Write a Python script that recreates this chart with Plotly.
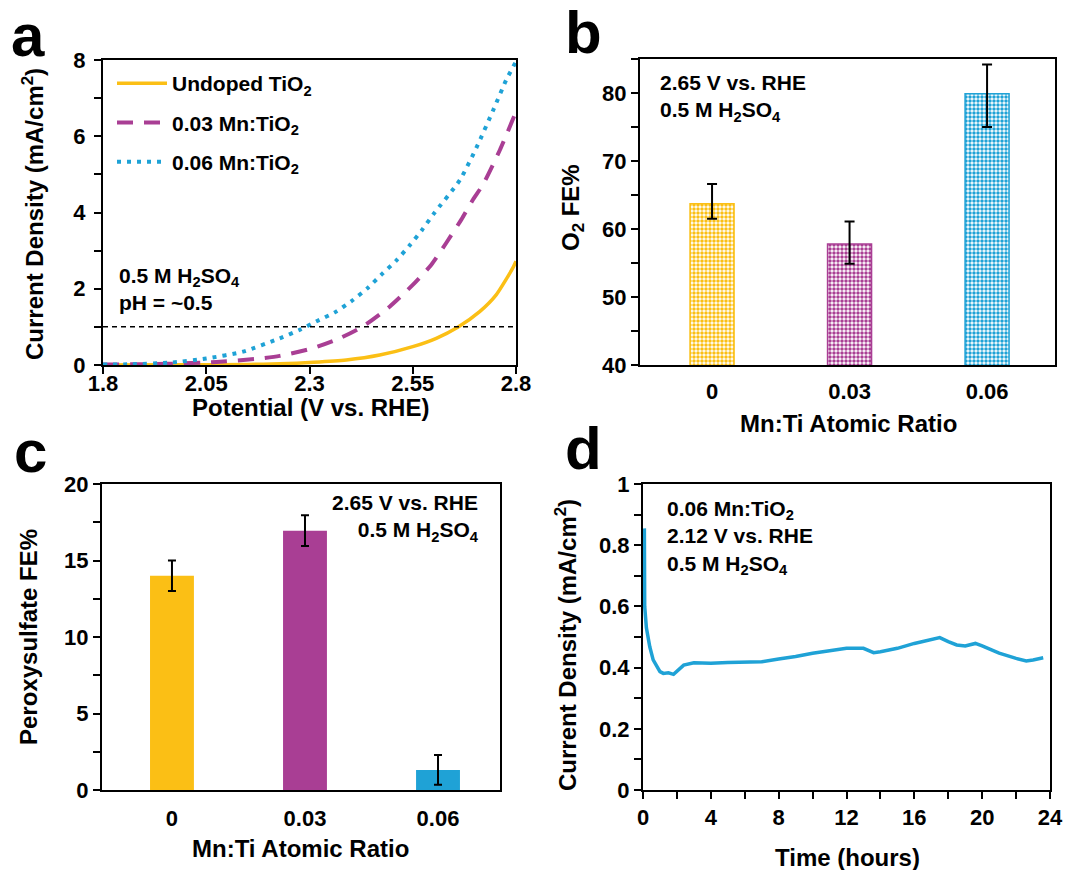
import plotly.graph_objects as go

W, H = 1069, 870

# ---------------- data ----------------
# Panel a: LSV curves
pot_undoped = [1.8, 2.0, 2.15, 2.228, 2.31, 2.389, 2.47, 2.55, 2.607, 2.659, 2.712, 2.752, 2.792, 2.8]
cur_undoped = [0.0, 0.005, 0.015, 0.03, 0.07, 0.13, 0.26, 0.48, 0.70, 0.99, 1.40, 1.84, 2.54, 2.72]
pot_mn003 = [1.8, 1.953, 2.075, 2.18, 2.228, 2.308, 2.373, 2.429, 2.494, 2.55, 2.595, 2.631,
             2.668, 2.696, 2.721, 2.761, 2.8]
cur_mn003 = [0.01, 0.03, 0.08, 0.17, 0.24, 0.44, 0.70, 1.01, 1.53, 2.10, 2.63, 3.20,
             3.82, 4.34, 4.75, 5.64, 6.64]
pot_mn006 = [1.8, 1.87, 1.96, 2.05, 2.139, 2.228, 2.276, 2.316, 2.361, 2.401, 2.441, 2.474,
             2.51, 2.542, 2.573, 2.601, 2.664, 2.705, 2.745, 2.776, 2.8]
cur_mn006 = [0.01, 0.02, 0.06, 0.17, 0.35, 0.70, 0.92, 1.14, 1.38, 1.67, 2.02, 2.37,
             2.74, 3.13, 3.55, 3.97, 4.85, 5.72, 6.69, 7.47, 7.96]
ref_pot = [1.8, 2.8]
ref_cur = [1.0, 1.0]
pot_ticks = [1.8, 2.05, 2.3, 2.55, 2.8]
pot_ticklabels = ["1.8", "2.05", "2.3", "2.55", "2.8"]

# Panels b, c: bars
ratios = ["0", "0.03", "0.06"]
o2_fe = [63.7, 57.8, 79.9]
o2_err_plus = [2.9, 3.3, 4.3]
o2_err_minus = [2.2, 2.9, 4.9]
ps_fe = [14.0, 16.95, 1.31]
ps_err = [1.0, 1.0, 0.97]

# Panel d: chronoamperometry
time_h = [0.08, 0.1, 0.2, 0.4, 0.6, 0.8, 1.0, 1.2, 1.5, 1.8, 2.0, 2.4, 3.0, 4.0, 5.0, 6.0, 7.0,
          8.0, 9.0, 10.0, 11.0, 12.0, 13.0, 13.6, 14.0, 15.0, 16.0, 17.0, 17.5, 18.0, 18.5,
          19.0, 19.6, 20.0, 21.0, 22.0, 22.6, 23.0, 23.6]
cur_time = [0.855, 0.60, 0.53, 0.468, 0.425, 0.403, 0.387, 0.381, 0.383, 0.378, 0.387, 0.408,
            0.416, 0.414, 0.417, 0.419, 0.419, 0.428, 0.436, 0.447, 0.454, 0.463, 0.463, 0.449,
            0.452, 0.463, 0.479, 0.490, 0.498, 0.485, 0.474, 0.471, 0.479, 0.471, 0.447,
            0.430, 0.422, 0.425, 0.432]

YELLOW = "#FBBF15"
PURPLE = "#A93E94"
BLUE = "#1FA2D6"
FONT = "Liberation Sans, Arial, sans-serif"


def px(x):
    return x / W


def py(y):
    return 1 - y / H


fig = go.Figure()

# ---- panel a ----
fig.add_trace(go.Scatter(x=pot_undoped, y=cur_undoped, mode="lines", name="Undoped TiO<sub>2</sub>",
                         line=dict(color=YELLOW, width=3.5, shape="spline", smoothing=0.6),
                         xaxis="x", yaxis="y", legendgroup="g1"))
fig.add_trace(go.Scatter(x=pot_mn003, y=cur_mn003, mode="lines", name="0.03 Mn:TiO<sub>2</sub>",
                         line=dict(color=PURPLE, width=4, dash="16px,11px", shape="spline",
                                   smoothing=0.6),
                         xaxis="x", yaxis="y", legendgroup="g2"))
fig.add_trace(go.Scatter(x=pot_mn006, y=cur_mn006, mode="lines", name="0.06 Mn:TiO<sub>2</sub>",
                         line=dict(color=BLUE, width=4, dash="4px,6px", shape="spline",
                                   smoothing=0.6),
                         xaxis="x", yaxis="y", legendgroup="g3"))
fig.add_trace(go.Scatter(x=ref_pot, y=ref_cur, mode="lines", showlegend=False,
                         line=dict(color="black", width=1.5, dash="5px,4px"),
                         xaxis="x", yaxis="y"))

# ---- panel b ----
fig.add_trace(go.Bar(x=ratios, y=o2_fe, width=0.32, showlegend=False,
                     marker=dict(color="white", line=dict(color=[YELLOW, PURPLE, BLUE], width=1.5),
                                 pattern=dict(shape=".", fgcolor=[YELLOW, PURPLE, BLUE],
                                              bgcolor="white", size=4, solidity=0.6,
                                              fillmode="replace")),
                     error_y=dict(type="data", symmetric=False, array=o2_err_plus,
                                  arrayminus=o2_err_minus, color="black", thickness=2, width=5),
                     xaxis="x2", yaxis="y2"))

# ---- panel c ----
fig.add_trace(go.Bar(x=ratios, y=ps_fe, width=0.33, showlegend=False,
                     marker=dict(color=[YELLOW, PURPLE, BLUE], line=dict(width=0)),
                     error_y=dict(type="data", array=ps_err, color="black", thickness=2, width=4),
                     xaxis="x3", yaxis="y3"))

# ---- panel d ----
fig.add_trace(go.Scatter(x=time_h, y=cur_time, mode="lines", showlegend=False,
                         line=dict(color=BLUE, width=3.5),
                         xaxis="x4", yaxis="y4"))

common = dict(showline=True, linecolor="black", linewidth=2, mirror=True, showgrid=False,
              zeroline=False, tickcolor="black", tickwidth=2, ticklen=7, automargin=False,
              tickfont=dict(size=22, color="black", family=FONT, weight="bold"))
minor_y = dict(ticks="outside", ticklen=7, tickcolor="black", tickwidth=2)

fig.update_layout(
    width=W, height=H, margin=dict(l=0, r=0, t=0, b=0, autoexpand=False),
    paper_bgcolor="white", plot_bgcolor="white",
    font=dict(family=FONT, color="black", size=21, weight="bold"),
    xaxis=dict(domain=[px(103), px(516)], anchor="y", range=[1.8, 2.8], tickvals=pot_ticks,
               ticktext=pot_ticklabels, ticks="outside", ticklabelstandoff=-9, **common),
    yaxis=dict(domain=[py(365), py(60)], anchor="x", range=[0, 8], dtick=2, ticks="outside",
               minor=dict(dtick=1, **minor_y), ticklabelstandoff=4, **common),
    xaxis2=dict(domain=[px(640), px(1055)], anchor="y2", type="category",
                range=[-0.524, 2.494], ticks="", ticklabelstandoff=6, **common),
    yaxis2=dict(domain=[py(365), py(59)], anchor="x2", range=[40, 85], dtick=10, ticks="outside",
                minor=dict(dtick=5, **minor_y), **common),
    xaxis3=dict(domain=[px(102), px(500)], anchor="y3", type="category",
                range=[-0.526, 2.466], ticks="", ticklabelstandoff=8, **common),
    yaxis3=dict(domain=[py(790), py(484)], anchor="x3", range=[0, 20], dtick=5, ticks="outside",
                minor=dict(dtick=2.5, **minor_y), **common),
    xaxis4=dict(domain=[px(643), px(1050)], anchor="y4", range=[0, 24], dtick=4, ticks="outside",
                minor=dict(dtick=2, **minor_y), ticklabelstandoff=0, **common),
    yaxis4=dict(domain=[py(790), py(484)], anchor="x4", range=[0, 1], dtick=0.2, ticks="outside",
                minor=dict(dtick=0.1, **minor_y), **common),
    legend=dict(x=px(112), y=py(63), xanchor="left", yanchor="top", bgcolor="rgba(0,0,0,0)",
                font=dict(size=21, family=FONT, weight="bold"), tracegroupgap=9,
                itemwidth=50),
)

ann = []


def add_text(text, x, y, size=21, xanchor="center", yanchor="middle", angle=0, align="left"):
    ann.append(dict(text=text, x=px(x), y=py(y), xref="paper", yref="paper", showarrow=False,
                    xanchor=xanchor, yanchor=yanchor, textangle=angle, align=align,
                    font=dict(size=size, family=FONT, color="black", weight="bold")))


# panel letters
add_text("a", 28, 36, size=60)
add_text("b", 583, 33, size=60)
add_text("c", 30, 452, size=60)
add_text("d", 583, 448, size=60)

# axis titles
add_text("Current Density (mA/cm<sup>2</sup>)", 33, 214, size=24, angle=-90)
add_text("Potential (V vs. RHE)", 310, 407, size=24)
add_text("O<sub>2</sub> FE%", 572, 208, size=24, angle=-90)
add_text("Mn:Ti Atomic Ratio", 848, 424, size=24)
add_text("Peroxysulfate FE%", 28, 637, size=24, angle=-90)
add_text("Mn:Ti Atomic Ratio", 300, 848, size=24)
add_text("Current Density (mA/cm<sup>2</sup>)", 566, 645, size=24, angle=-90)
add_text("Time (hours)", 847, 857, size=24)

# in-plot notes
add_text("0.5 M H<sub>2</sub>SO<sub>4</sub><br>pH = ~0.5", 117, 289, xanchor="left")
add_text("2.65 V vs. RHE<br>0.5 M H<sub>2</sub>SO<sub>4</sub>", 658, 98, xanchor="left")
add_text("2.65 V vs. RHE<br>0.5 M H<sub>2</sub>SO<sub>4</sub>", 481, 518, xanchor="right",
         align="right")
add_text("0.06 Mn:TiO<sub>2</sub><br>2.12 V vs. RHE<br>0.5 M H<sub>2</sub>SO<sub>4</sub>", 665, 537,
         xanchor="left")

fig.update_layout(annotations=ann)

fig.write_html("out.html", config={"displayModeBar": False},
               post_script="document.body.style.margin='0px';document.body.style.padding='0px';")
